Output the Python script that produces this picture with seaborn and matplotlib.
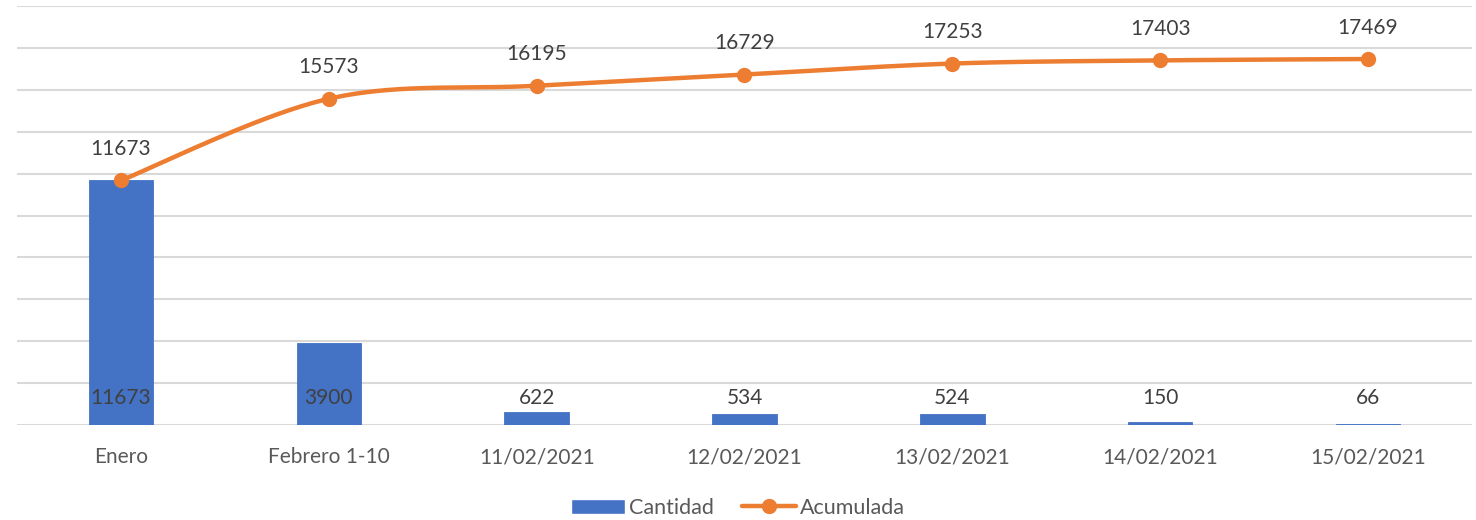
import numpy as np
import seaborn as sns
import matplotlib.pyplot as plt
from matplotlib.lines import Line2D
from matplotlib.patches import Patch

categorias = ['Enero', 'Febrero 1-10', '11/02/2021', '12/02/2021',
              '13/02/2021', '14/02/2021', '15/02/2021']
cantidad = [11673, 3900, 622, 534, 524, 150, 66]
acumulada = [11673, 15573, 16195, 16729, 17253, 17403, 17469]

AZUL = '#4472C4'
NARANJA = '#ED7D31'
TEXTO = '#404040'


def curva_suave(xs, ys, sx, sy, n=40):
    # Bezier suavizado al estilo Excel (Catmull-Rom), calculado en espacio de pixeles
    px = np.asarray(xs, float) * sx
    py = np.asarray(ys, float) * sy
    pts = np.column_stack([px, py])
    out = [pts[0]]
    for i in range(len(pts) - 1):
        p0 = pts[i - 1] if i > 0 else pts[i]
        p1 = pts[i]
        p2 = pts[i + 1]
        p3 = pts[i + 2] if i + 2 < len(pts) else pts[i + 1]
        c1 = p1 + (p2 - p0) / 6.0
        c2 = p2 - (p3 - p1) / 6.0
        t = np.linspace(0, 1, n)[1:, None]
        seg = ((1 - t) ** 3) * p1 + 3 * ((1 - t) ** 2) * t * c1 + 3 * (1 - t) * t ** 2 * c2 + t ** 3 * p2
        out.extend(seg)
    out = np.array(out)
    return out[:, 0] / sx, out[:, 1] / sy


sns.set_style('white')
plt.rcParams['font.family'] = ['Lato', 'DejaVu Sans']

fig = plt.figure(figsize=(14.76, 5.2), dpi=100)
ax = fig.add_axes([17 / 1476, 1 - 425 / 520, (1472 - 17) / 1476, (425 - 6) / 520])

x = np.arange(len(categorias))
sns.barplot(x=categorias, y=cantidad, color=AZUL, width=0.31, saturation=1, ax=ax, zorder=2,
            edgecolor=AZUL, linewidth=0.6)

# linea acumulada suavizada
cx, cy = curva_suave(x, acumulada, 208.0, 419.0 / 20000)
ax.plot(cx, cy, color=NARANJA, lw=3.2, zorder=3, solid_capstyle='round')
ax.plot(x, acumulada, 'o', color=NARANJA, ms=10, zorder=4)

ax.set_xlim(-0.5, len(categorias) - 0.5)
ax.set_ylim(0, 20000)
ax.set_yticks(np.arange(0, 20001, 2000))
ax.set_yticklabels([])
ax.yaxis.grid(True, color='#d9d9d9', lw=1.5)
ax.set_axisbelow(True)
ax.tick_params(axis='both', length=0)
ax.tick_params(axis='x', labelsize=15, labelcolor='#595959', pad=16)
for s in ax.spines.values():
    s.set_visible(False)

for xi, v in zip(x, cantidad):
    ax.text(xi, 1300, str(v), ha='center', va='center', fontsize=15, color=TEXTO, zorder=5)
for xi, v in zip(x, acumulada):
    ax.text(xi, v + 1500, str(v), ha='center', va='center', fontsize=15, color=TEXTO, zorder=5)

handles = [Patch(facecolor=AZUL, label='Cantidad'),
           Line2D([0], [0], color=NARANJA, lw=3.2, marker='o', ms=10, label='Acumulada')]
fig.legend(handles=handles, loc='center', bbox_to_anchor=(0.5, 1 - 508 / 520), ncol=2,
           frameon=False, fontsize=15.5, labelcolor='#595959', handlelength=2.5,
           handletextpad=0.2, columnspacing=1.3)

fig.savefig('out.png', dpi=100)
